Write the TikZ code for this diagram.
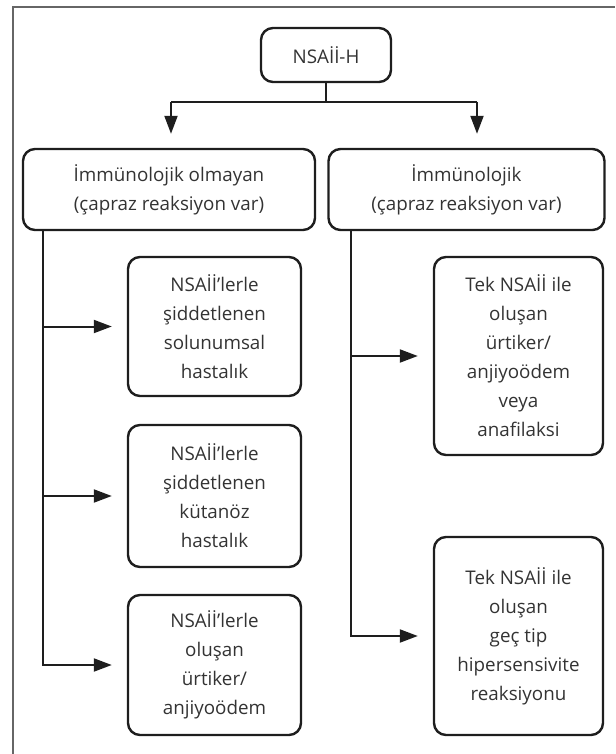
\documentclass[tikz,border=0pt]{standalone}
\usepackage{fontspec}
\setmainfont{Open Sans}
\usetikzlibrary{arrows.meta,calc}
\definecolor{txt}{HTML}{333333}
\definecolor{ln}{HTML}{1E1E1E}
\definecolor{frame}{HTML}{666666}
\begin{document}
\begin{tikzpicture}[x=1pt,y=-1pt,
  box/.style={draw=ln, line width=2.4pt, rounded corners=12pt, align=center, text=txt,
    font=\fontsize{18.8}{29}\selectfont, inner sep=0pt},
  conn/.style={line width=2pt, draw=ln},
  arr/.style={conn, -{Triangle[length=18pt,width=13pt]}},
]
\useasboundingbox (0,0) rectangle (615,754);
\draw[frame, line width=1.5pt] (13,754) -- (13,7) -- (615,7);

\node[box, minimum width=130pt, minimum height=54pt] (top) at (326,55) {NSAİİ-H};
\node[box, minimum width=292pt, minimum height=81pt] (L) at (169,189.5) {İmmünolojik olmayan\\(çapraz reaksiyon var)};
\node[box, minimum width=276pt, minimum height=81pt] (R) at (466.5,189.5) {İmmünolojik\\(çapraz reaksiyon var)};

\node[box, minimum width=173pt, minimum height=139pt] (L1) at (214.5,326.5) {NSAİİ’lerle\\şiddetlenen\\solunumsal\\hastalık};
\node[box, minimum width=173pt, minimum height=142pt] (L2) at (214.5,496) {NSAİİ’lerle\\şiddetlenen\\kütanöz\\hastalık};
\node[box, minimum width=173pt, minimum height=140pt] (L3) at (214.5,665) {NSAİİ’lerle\\oluşan\\ürtiker/\\anjiyoödem};

\node[box, minimum width=169pt, minimum height=198pt] (R1) at (518.5,356) {Tek NSAİİ ile\\oluşan\\ürtiker/\\anjiyoödem\\veya\\anafilaksi};
\node[box, minimum width=169pt, minimum height=198pt] (R2) at (518.5,636) {Tek NSAİİ ile\\oluşan\\geç tip\\hipersensivite\\reaksiyonu};

\coordinate (jl) at (171,102);
\coordinate (jr) at (477,102);
\coordinate (lt) at (43,0);
\coordinate (rt) at (351,0);

\draw[conn] (top.south) -- (top.south |- jl);
\draw[conn] (jl) -- (jr);
\draw[arr, shorten >=14pt] (jl) -- (jl |- L.north);
\draw[arr, shorten >=14pt] (jr) -- (jr |- R.north);

\draw[arr, shorten >=15pt] (L.south -| lt) |- (L3.west);
\draw[arr, shorten >=15pt] (L1.west -| lt) -- (L1.west);
\draw[arr, shorten >=15pt] (L2.west -| lt) -- (L2.west);

\draw[arr, shorten >=15pt] (R.south -| rt) |- (R2.west);
\draw[arr, shorten >=15pt] (R1.west -| rt) -- (R1.west);
\end{tikzpicture}
\end{document}
